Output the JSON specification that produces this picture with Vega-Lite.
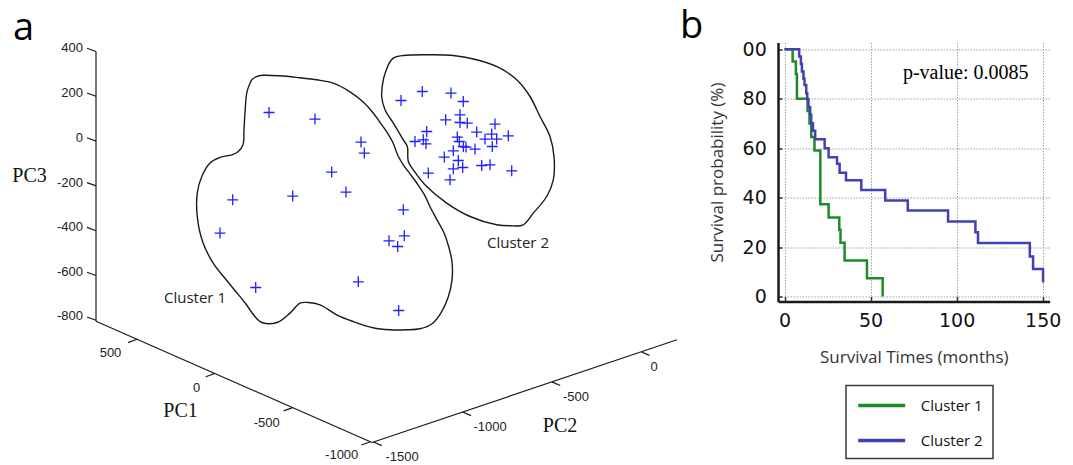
{
  "$schema": "https://vega.github.io/schema/vega-lite/v6.json",
  "background": "white",
  "padding": {"top": 7.5, "left": 0, "right": 0, "bottom": 0},
  "spacing": 0,
  "resolve": {"legend": {"color": "independent"}},
  "config": {
    "view": {"stroke": null},
    "axis": {
      "labelFont": "DejaVu Sans", "labelFontSize": 19, "labelColor": "#111",
      "titleFont": "Open Sans", "titleFontSize": 17, "titleFontWeight": "normal", "titleColor": "#333",
      "domainColor": "#1a1a1a", "domainWidth": 2.5, "tickColor": "#333", "tickWidth": 1.5,
      "gridColor": "#a0a0a0", "gridDash": [1.5, 1.5], "gridWidth": 1
    },
    "legend": {"strokeWidth": 1.5}
  },
  "hconcat": [
    {
      "width": 680,
      "height": 422.3,
      "title": {"text": "a", "anchor": "start", "frame": "group", "dx": 13, "offset": -5.8, "fontSize": 38, "font": "Open Sans", "fontWeight": "normal", "color": "#000"},
      "encoding": {
        "x": {"field": "x", "type": "quantitative", "scale": {"domain": [0, 680], "nice": false, "zero": false}, "axis": null},
        "y": {"field": "y", "type": "quantitative", "scale": {"domain": [42.7, 465], "nice": false, "zero": false, "reverse": true}, "axis": null}
      },
      "layer": [
        {
          "data": {"values": [
            {"c": 1, "i": 0, "x": 251.7, "y": 80}, {"c": 1, "i": 1, "x": 256, "y": 77}, {"c": 1, "i": 2, "x": 263, "y": 75.5}, {"c": 1, "i": 3, "x": 280, "y": 76}, {"c": 1, "i": 4, "x": 300, "y": 78}, {"c": 1, "i": 5, "x": 316.7, "y": 80}, {"c": 1, "i": 6, "x": 333.3, "y": 83.3}, {"c": 1, "i": 7, "x": 350, "y": 92}, {"c": 1, "i": 8, "x": 363, "y": 102}, {"c": 1, "i": 9, "x": 373, "y": 113}, {"c": 1, "i": 10, "x": 381, "y": 124}, {"c": 1, "i": 11, "x": 388, "y": 134}, {"c": 1, "i": 12, "x": 393, "y": 143}, {"c": 1, "i": 13, "x": 398, "y": 156}, {"c": 1, "i": 14, "x": 403.3, "y": 165}, {"c": 1, "i": 15, "x": 410, "y": 174}, {"c": 1, "i": 16, "x": 418, "y": 185}, {"c": 1, "i": 17, "x": 425, "y": 196}, {"c": 1, "i": 18, "x": 430, "y": 207}, {"c": 1, "i": 19, "x": 437, "y": 220}, {"c": 1, "i": 20, "x": 444, "y": 233}, {"c": 1, "i": 21, "x": 449, "y": 248}, {"c": 1, "i": 22, "x": 452, "y": 262}, {"c": 1, "i": 23, "x": 452, "y": 280}, {"c": 1, "i": 24, "x": 448, "y": 298}, {"c": 1, "i": 25, "x": 441, "y": 313}, {"c": 1, "i": 26, "x": 432, "y": 324}, {"c": 1, "i": 27, "x": 420, "y": 329}, {"c": 1, "i": 28, "x": 406, "y": 330}, {"c": 1, "i": 29, "x": 390, "y": 330}, {"c": 1, "i": 30, "x": 373, "y": 328}, {"c": 1, "i": 31, "x": 353, "y": 321.7}, {"c": 1, "i": 32, "x": 336.7, "y": 315}, {"c": 1, "i": 33, "x": 320, "y": 305}, {"c": 1, "i": 34, "x": 308, "y": 302.7}, {"c": 1, "i": 35, "x": 300, "y": 303.3}, {"c": 1, "i": 36, "x": 290, "y": 313.3}, {"c": 1, "i": 37, "x": 277, "y": 322.7}, {"c": 1, "i": 38, "x": 262, "y": 322.7}, {"c": 1, "i": 39, "x": 256, "y": 318}, {"c": 1, "i": 40, "x": 245, "y": 303}, {"c": 1, "i": 41, "x": 236, "y": 292}, {"c": 1, "i": 42, "x": 227, "y": 281}, {"c": 1, "i": 43, "x": 213, "y": 263}, {"c": 1, "i": 44, "x": 203, "y": 243}, {"c": 1, "i": 45, "x": 197.3, "y": 217}, {"c": 1, "i": 46, "x": 197.3, "y": 193}, {"c": 1, "i": 47, "x": 201.7, "y": 177}, {"c": 1, "i": 48, "x": 210, "y": 163.3}, {"c": 1, "i": 49, "x": 220, "y": 157.5}, {"c": 1, "i": 50, "x": 232, "y": 155}, {"c": 1, "i": 51, "x": 238.3, "y": 151.7}, {"c": 1, "i": 52, "x": 243, "y": 145}, {"c": 1, "i": 53, "x": 244, "y": 130}, {"c": 1, "i": 54, "x": 245, "y": 113}, {"c": 1, "i": 55, "x": 247, "y": 92}, {"c": 1, "i": 56, "x": 251.7, "y": 80},
            {"c": 2, "i": 0, "x": 388.3, "y": 65}, {"c": 2, "i": 1, "x": 393.3, "y": 58.3}, {"c": 2, "i": 2, "x": 403.3, "y": 55.7}, {"c": 2, "i": 3, "x": 430, "y": 55}, {"c": 2, "i": 4, "x": 453.3, "y": 55.7}, {"c": 2, "i": 5, "x": 476.7, "y": 60}, {"c": 2, "i": 6, "x": 500, "y": 68.3}, {"c": 2, "i": 7, "x": 516.7, "y": 80}, {"c": 2, "i": 8, "x": 530, "y": 96.7}, {"c": 2, "i": 9, "x": 540, "y": 116.7}, {"c": 2, "i": 10, "x": 550, "y": 136.7}, {"c": 2, "i": 11, "x": 554, "y": 156.7}, {"c": 2, "i": 12, "x": 553.3, "y": 180}, {"c": 2, "i": 13, "x": 546.7, "y": 196.7}, {"c": 2, "i": 14, "x": 533.3, "y": 213.3}, {"c": 2, "i": 15, "x": 523.3, "y": 225}, {"c": 2, "i": 16, "x": 510, "y": 226}, {"c": 2, "i": 17, "x": 496.7, "y": 225}, {"c": 2, "i": 18, "x": 470, "y": 216.7}, {"c": 2, "i": 19, "x": 446.7, "y": 203.3}, {"c": 2, "i": 20, "x": 426.7, "y": 186.7}, {"c": 2, "i": 21, "x": 413.3, "y": 170}, {"c": 2, "i": 22, "x": 408.3, "y": 161.7}, {"c": 2, "i": 23, "x": 407.3, "y": 146.7}, {"c": 2, "i": 24, "x": 403.3, "y": 140}, {"c": 2, "i": 25, "x": 393.3, "y": 123.3}, {"c": 2, "i": 26, "x": 385, "y": 110}, {"c": 2, "i": 27, "x": 381.7, "y": 96.7}, {"c": 2, "i": 28, "x": 383.3, "y": 80}, {"c": 2, "i": 29, "x": 388.3, "y": 65}
          ]},
          "mark": {"type": "line", "interpolate": "catmull-rom", "stroke": "#1a1a1a", "strokeWidth": 1.4},
          "encoding": {"order": {"field": "i", "type": "quantitative"}, "detail": {"field": "c", "type": "nominal"}}
        },
        {
          "data": {"values": [
            {"x": 96, "y": 51.7, "x2": 96, "y2": 321.5},
            {"x": 96, "y": 321.5, "x2": 372, "y2": 442.7},
            {"x": 372, "y": 442.7, "x2": 677, "y2": 340},
            {"x": 96, "y": 51.7, "x2": 87, "y2": 48.4},
            {"x": 96, "y": 96.5, "x2": 87, "y2": 93.2},
            {"x": 96, "y": 141.3, "x2": 87, "y2": 138},
            {"x": 96, "y": 186.1, "x2": 87, "y2": 182.8},
            {"x": 96, "y": 230.9, "x2": 87, "y2": 227.6},
            {"x": 96, "y": 275.7, "x2": 87, "y2": 272.4},
            {"x": 96, "y": 320.5, "x2": 87, "y2": 317.2},
            {"x": 137, "y": 339.5, "x2": 128, "y2": 342.8},
            {"x": 214.8, "y": 373.6, "x2": 205.8, "y2": 376.9},
            {"x": 292.6, "y": 407.8, "x2": 283.6, "y2": 411.1},
            {"x": 370.4, "y": 441.9, "x2": 361.4, "y2": 445.2},
            {"x": 373.5, "y": 442.2, "x2": 381.8, "y2": 445.8},
            {"x": 462.7, "y": 412.2, "x2": 471, "y2": 415.8},
            {"x": 551.9, "y": 382.1, "x2": 560.2, "y2": 385.7},
            {"x": 641.1, "y": 352, "x2": 649.4, "y2": 355.6}
          ]},
          "mark": {"type": "rule", "stroke": "#1a1a1a", "strokeWidth": 1.2},
          "encoding": {"x2": {"field": "x2"}, "y2": {"field": "y2"}}
        },
        {
          "data": {"values": [
            {"x": 83, "y": 48, "t": "400"}, {"x": 83, "y": 93, "t": "200"}, {"x": 83, "y": 138, "t": "0"}, {"x": 83, "y": 183, "t": "-200"}, {"x": 83, "y": 227.5, "t": "-400"}, {"x": 83, "y": 272, "t": "-600"}, {"x": 83, "y": 316.5, "t": "-800"}
          ]},
          "mark": {"type": "text", "align": "right", "baseline": "middle", "font": "Liberation Sans", "fontSize": 13, "color": "#222"},
          "encoding": {"text": {"field": "t"}}
        },
        {
          "data": {"values": [
            {"x": 110.5, "y": 353.5, "t": "500"}, {"x": 196.7, "y": 388, "t": "0"}, {"x": 266.7, "y": 423, "t": "-500"}, {"x": 341.7, "y": 455, "t": "-1000"},
            {"x": 402, "y": 457, "t": "-1500"}, {"x": 490, "y": 427, "t": "-1000"}, {"x": 576, "y": 397, "t": "-500"}, {"x": 654, "y": 367, "t": "0"}
          ]},
          "mark": {"type": "text", "align": "center", "baseline": "middle", "font": "Liberation Sans", "fontSize": 13, "color": "#222"},
          "encoding": {"text": {"field": "t"}}
        },
        {
          "data": {"values": [
            {"x": 180.5, "y": 411.5, "t": "PC1"}, {"x": 560, "y": 426, "t": "PC2"}, {"x": 29.5, "y": 176.5, "t": "PC3"}
          ]},
          "mark": {"type": "text", "align": "center", "baseline": "middle", "font": "Liberation Serif", "fontSize": 20, "color": "#111"},
          "encoding": {"text": {"field": "t"}}
        },
        {
          "data": {"values": [
            {"x": 195, "y": 298, "t": "Cluster 1"}, {"x": 518, "y": 243, "t": "Cluster 2"}
          ]},
          "mark": {"type": "text", "align": "center", "baseline": "middle", "font": "Open Sans", "fontSize": 15, "color": "#222"},
          "encoding": {"text": {"field": "t"}}
        },
        {
          "data": {"values": [
            {"cluster": 1, "x": 269, "y": 112.7}, {"cluster": 1, "x": 315, "y": 119.3}, {"cluster": 1, "x": 361, "y": 142.3}, {"cluster": 1, "x": 364.3, "y": 153.3}, {"cluster": 1, "x": 331.7, "y": 172.3}, {"cluster": 1, "x": 292.7, "y": 196.3}, {"cluster": 1, "x": 346, "y": 192.3}, {"cluster": 1, "x": 232.7, "y": 200}, {"cluster": 1, "x": 220, "y": 233.3}, {"cluster": 1, "x": 403.3, "y": 210}, {"cluster": 1, "x": 404.3, "y": 236}, {"cluster": 1, "x": 389, "y": 241}, {"cluster": 1, "x": 397.7, "y": 246.7}, {"cluster": 1, "x": 358.3, "y": 282}, {"cluster": 1, "x": 255.7, "y": 287.7}, {"cluster": 1, "x": 398.7, "y": 310.7},
            {"cluster": 2, "x": 401, "y": 100.7}, {"cluster": 2, "x": 422.3, "y": 91.7}, {"cluster": 2, "x": 451, "y": 93.3}, {"cluster": 2, "x": 463.3, "y": 101.7}, {"cluster": 2, "x": 460, "y": 115}, {"cluster": 2, "x": 445.7, "y": 120}, {"cluster": 2, "x": 460, "y": 122.7}, {"cluster": 2, "x": 467.3, "y": 123.3}, {"cluster": 2, "x": 495, "y": 124.3}, {"cluster": 2, "x": 426.7, "y": 131.7}, {"cluster": 2, "x": 415, "y": 141.7}, {"cluster": 2, "x": 423.3, "y": 140}, {"cluster": 2, "x": 426, "y": 144}, {"cluster": 2, "x": 476.7, "y": 132.3}, {"cluster": 2, "x": 491.7, "y": 134.3}, {"cluster": 2, "x": 485, "y": 139.3}, {"cluster": 2, "x": 496.7, "y": 139.3}, {"cluster": 2, "x": 508.3, "y": 136}, {"cluster": 2, "x": 457.3, "y": 137.3}, {"cluster": 2, "x": 459.3, "y": 141.7}, {"cluster": 2, "x": 463.3, "y": 146.7}, {"cluster": 2, "x": 475, "y": 149.3}, {"cluster": 2, "x": 492.3, "y": 146.7}, {"cluster": 2, "x": 453.3, "y": 151}, {"cluster": 2, "x": 444.3, "y": 157.3}, {"cluster": 2, "x": 458.3, "y": 160.7}, {"cluster": 2, "x": 453.3, "y": 169}, {"cluster": 2, "x": 462.7, "y": 167.7}, {"cluster": 2, "x": 481.7, "y": 165.7}, {"cluster": 2, "x": 490, "y": 165}, {"cluster": 2, "x": 428.3, "y": 173.3}, {"cluster": 2, "x": 450, "y": 180}, {"cluster": 2, "x": 511.7, "y": 171}, {"cluster": 2, "x": 466, "y": 147.3}
          ]},
          "mark": {"type": "point", "shape": "M-1,0L1,0M0,-1L0,1", "size": 121, "filled": false, "color": "#2020ff", "strokeWidth": 1.3, "opacity": 1}
        }
      ]
    },
    {
      "width": 271.6,
      "height": 259,
      "title": {"text": "b", "anchor": "start", "frame": "group", "dx": -98, "offset": -5.8, "fontSize": 38, "font": "Open Sans", "fontWeight": "normal", "color": "#000"},
      "layer": [
        {
          "data": {"values": [
            {"cluster": "Cluster 1", "t": 0, "s": 100}, {"cluster": "Cluster 1", "t": 4.7, "s": 95}, {"cluster": "Cluster 1", "t": 6.6, "s": 90}, {"cluster": "Cluster 1", "t": 7.2, "s": 80}, {"cluster": "Cluster 1", "t": 13.4, "s": 75}, {"cluster": "Cluster 1", "t": 14.5, "s": 70}, {"cluster": "Cluster 1", "t": 15.5, "s": 64.5}, {"cluster": "Cluster 1", "t": 17.4, "s": 59}, {"cluster": "Cluster 1", "t": 20.8, "s": 37.3}, {"cluster": "Cluster 1", "t": 25.6, "s": 32}, {"cluster": "Cluster 1", "t": 31.8, "s": 27}, {"cluster": "Cluster 1", "t": 32.5, "s": 21.8}, {"cluster": "Cluster 1", "t": 34.9, "s": 14.6}, {"cluster": "Cluster 1", "t": 47.9, "s": 7.4}, {"cluster": "Cluster 1", "t": 57, "s": 0},
            {"cluster": "Cluster 2", "t": 0, "s": 100}, {"cluster": "Cluster 2", "t": 8.5, "s": 97}, {"cluster": "Cluster 2", "t": 9.5, "s": 94}, {"cluster": "Cluster 2", "t": 10.1, "s": 91}, {"cluster": "Cluster 2", "t": 11.0, "s": 88}, {"cluster": "Cluster 2", "t": 11.6, "s": 85.5}, {"cluster": "Cluster 2", "t": 12.6, "s": 82.2}, {"cluster": "Cluster 2", "t": 13.2, "s": 79.8}, {"cluster": "Cluster 2", "t": 13.9, "s": 76.5}, {"cluster": "Cluster 2", "t": 14.9, "s": 73.5}, {"cluster": "Cluster 2", "t": 15.5, "s": 70.1}, {"cluster": "Cluster 2", "t": 16.5, "s": 67}, {"cluster": "Cluster 2", "t": 17.8, "s": 63.6}, {"cluster": "Cluster 2", "t": 23.3, "s": 60}, {"cluster": "Cluster 2", "t": 25.6, "s": 56.3}, {"cluster": "Cluster 2", "t": 30.5, "s": 53.7}, {"cluster": "Cluster 2", "t": 32.0, "s": 50}, {"cluster": "Cluster 2", "t": 35.7, "s": 47}, {"cluster": "Cluster 2", "t": 44.6, "s": 43.1}, {"cluster": "Cluster 2", "t": 58.5, "s": 38.8}, {"cluster": "Cluster 2", "t": 71.6, "s": 34.8}, {"cluster": "Cluster 2", "t": 95, "s": 30.3}, {"cluster": "Cluster 2", "t": 110.9, "s": 26}, {"cluster": "Cluster 2", "t": 112.4, "s": 21.6}, {"cluster": "Cluster 2", "t": 142.5, "s": 16.2}, {"cluster": "Cluster 2", "t": 144.4, "s": 11.1}, {"cluster": "Cluster 2", "t": 150.2, "s": 5.7}
          ]},
          "mark": {"type": "line", "interpolate": "step-after", "strokeWidth": 2.5},
          "encoding": {
            "x": {"field": "t", "type": "quantitative", "scale": {"domain": [-3.8, 154], "nice": false, "zero": false},
                  "axis": {"title": "Survival Times (months)", "values": [0, 50, 100, 150], "tickSize": -5, "labelPadding": 15, "labelFlush": false, "titlePadding": 19, "grid": true}},
            "y": {"field": "s", "type": "quantitative", "scale": {"domain": [-2, 102.7], "nice": false, "zero": false},
                  "axis": {"title": "Survival probability (%)", "values": [0, 10, 20, 30, 40, 50, 60, 70, 80, 90, 100], "tickSize": -4, "labelPadding": 15.7, "labelOverlap": false, "labelFlush": false, "titlePadding": 16, "grid": true,
                           "labelExpr": "datum.value % 20 === 0 ? (datum.value === 100 ? '00' : datum.label) : ''",
                           "gridOpacity": {"condition": {"test": "datum.value % 20 === 0", "value": 1}, "value": 0}}},
            "color": {"field": "cluster", "type": "nominal", "scale": {"domain": ["Cluster 1", "Cluster 2"], "range": ["#1f8a2a", "#4141b4"]},
                      "legend": {"title": null, "orient": "none", "legendX": 68, "legendY": 343, "strokeColor": "#3a3a3a", "fillColor": "white", "padding": 10,
                                 "symbolType": "M-3,0L3,0", "symbolSize": 245, "symbolOffset": 15.7, "symbolStrokeWidth": 3.5,
                                 "labelFont": "Open Sans", "labelFontSize": 15, "labelColor": "#111", "labelOffset": 29, "rowPadding": 17,
                                 "encode": {"symbols": {"update": {"stroke": {"signal": "datum.value === 'Cluster 1' ? '#22b14c' : '#3f48cc'"}}}}}}
          }
        },
        {
          "data": {"values": [{"t": 68.8, "s": 90.4, "label": "p-value: 0.0085"}]},
          "mark": {"type": "text", "align": "left", "baseline": "middle", "font": "Liberation Serif", "fontSize": 20, "color": "#000"},
          "encoding": {
            "x": {"field": "t", "type": "quantitative"},
            "y": {"field": "s", "type": "quantitative"},
            "text": {"field": "label"}
          }
        }
      ]
    }
  ]
}
